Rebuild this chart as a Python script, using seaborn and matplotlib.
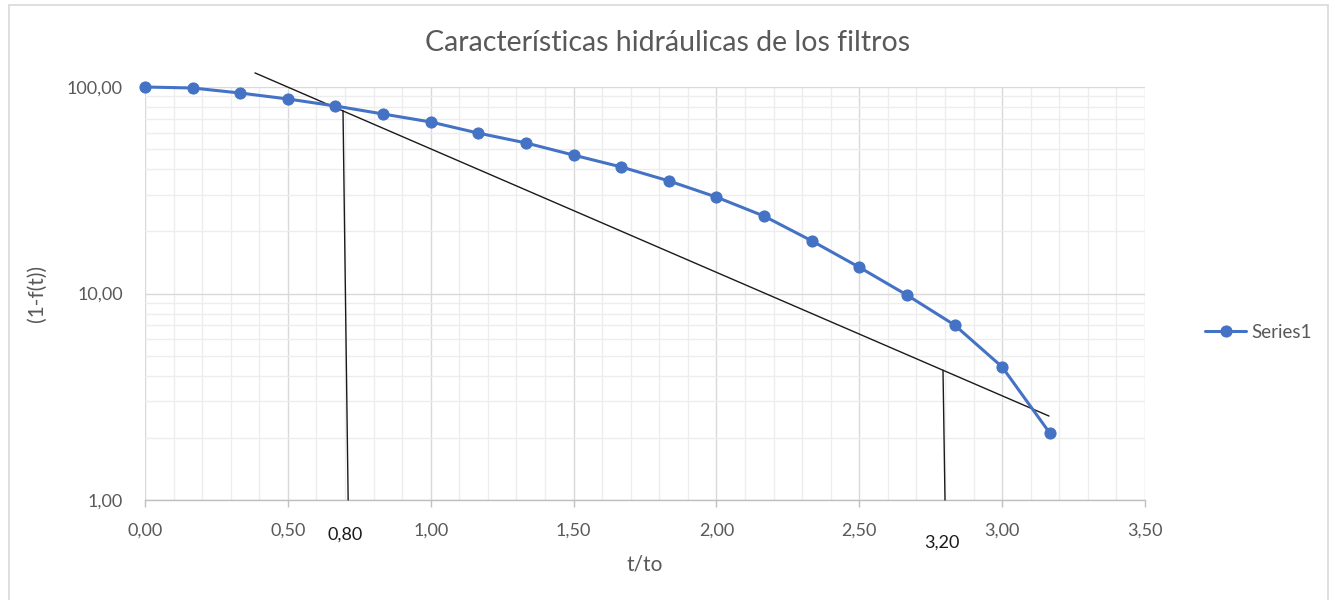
import numpy as np
import pandas as pd
import matplotlib
matplotlib.use("Agg")
import matplotlib.pyplot as plt
from matplotlib.ticker import FuncFormatter, MultipleLocator, LogLocator, NullFormatter
from matplotlib.patches import Rectangle
import seaborn as sns

# ---- data ----
t_to = [0.0, 0.1667, 0.3333, 0.5, 0.6667, 0.8333, 1.0, 1.1667, 1.3333, 1.5,
        1.6667, 1.8333, 2.0, 2.1667, 2.3333, 2.5, 2.6667, 2.8333, 3.0, 3.1667]
one_minus_f = [100.0, 98.9, 93.5, 87.5, 80.9, 74.0, 67.7, 59.8, 53.6, 46.8,
               41.0, 35.1, 29.3, 23.7, 18.0, 13.4, 9.83, 7.04, 4.41, 2.11]
series_name = "Series1"

tangent_x = [0.385, 3.164]
tangent_y = [117.0, 2.55]
vline1_x = [0.693, 0.711]
vline1_y = [77.0, 1.0]
vline2_x = [2.793, 2.80]
vline2_y = [4.25, 1.0]
annot_labels = ["0,80", "3,20"]
annot_x = [0.70, 2.79]
annot_offset = [-25, -31]

title = "Características hidráulicas de los filtros"
xlabel = "t/to"
ylabel = "(1-f(t))"

df = pd.DataFrame({"t/to": t_to, "y": one_minus_f})

sns.set_theme(style="white")
plt.rcParams['font.family'] = ['Lato', 'DejaVu Sans']

fig = plt.figure(figsize=(13.35, 6.0), dpi=100)
ax = fig.add_axes([145/1335, 1 - 500/600, 1000/1335, 413/600])

# border of chart area
fig.patches.append(Rectangle((9/1335, -0.01), (1328-9)/1335, 1 - 5/600 + 0.01,
                             transform=fig.transFigure, fill=False,
                             edgecolor="#d9d9d9", linewidth=1.2, zorder=0))

blue = "#4472C4"
sns.lineplot(data=df, x="t/to", y="y", ax=ax, color=blue, linewidth=2.2,
             marker="o", markersize=8, markeredgecolor=blue, label=series_name,
             legend=False, zorder=5, clip_on=False)

ax.plot(tangent_x, tangent_y, color="#1a1a1a", linewidth=1.0, zorder=4, clip_on=False)
ax.plot(vline1_x, vline1_y, color="#1a1a1a", linewidth=1.0, zorder=4, clip_on=False)
ax.plot(vline2_x, vline2_y, color="#1a1a1a", linewidth=1.0, zorder=4, clip_on=False)

ax.set_yscale("log")
ax.set_xlim(0, 3.5)
ax.set_ylim(1, 100)
ax.xaxis.set_major_locator(MultipleLocator(0.5))
ax.xaxis.set_minor_locator(MultipleLocator(0.1))
ax.yaxis.set_major_locator(LogLocator(base=10, numticks=10))
ax.yaxis.set_minor_locator(LogLocator(base=10, subs=np.arange(2, 10), numticks=20))
ax.yaxis.set_minor_formatter(NullFormatter())

fmt = FuncFormatter(lambda v, p: f"{v:.2f}".replace(".", ","))
ax.xaxis.set_major_formatter(fmt)
ax.yaxis.set_major_formatter(fmt)

ax.grid(True, which="major", color="#d9d9d9", linewidth=1.0, zorder=0)
ax.grid(True, which="minor", color="#ededed", linewidth=1.0, zorder=0)
ax.set_axisbelow(True)

for s in ["top", "right", "left"]:
    ax.spines[s].set_visible(False)
ax.spines["bottom"].set_color("#bfbfbf")
ax.spines["bottom"].set_linewidth(1.0)

ax.tick_params(axis="x", which="major", length=5, width=1, color="#bfbfbf",
               labelsize=13, labelcolor="#595959", pad=11, bottom=True)
ax.tick_params(axis="x", which="minor", length=0)
ax.tick_params(axis="y", which="both", length=0, labelsize=13,
               labelcolor="#595959", pad=16)

ax.set_xlabel(xlabel, fontsize=15, color="#595959", labelpad=12)
ax.set_ylabel(ylabel, fontsize=15, color="#595959", labelpad=14)

fig.text(668/1335, 1 - 43/600, title, ha="center", va="center",
         fontsize=20.5, color="#595959")

for lab, xv, off in zip(annot_labels, annot_x, annot_offset):
    ax.annotate(lab, xy=(xv, 1.0), xycoords="data", xytext=(0, off),
                textcoords="offset points", ha="center", va="center",
                fontsize=13, color="#1a1a1a")

handles, labels = ax.get_legend_handles_labels()
leg = fig.legend(handles, labels, loc="center left",
                 bbox_to_anchor=(1188/1335, 1 - 332/600), frameon=False,
                 fontsize=13.5, handlelength=2.2, handletextpad=0.3)
for t in leg.get_texts():
    t.set_color("#595959")

fig.savefig("out.png", dpi=100)
